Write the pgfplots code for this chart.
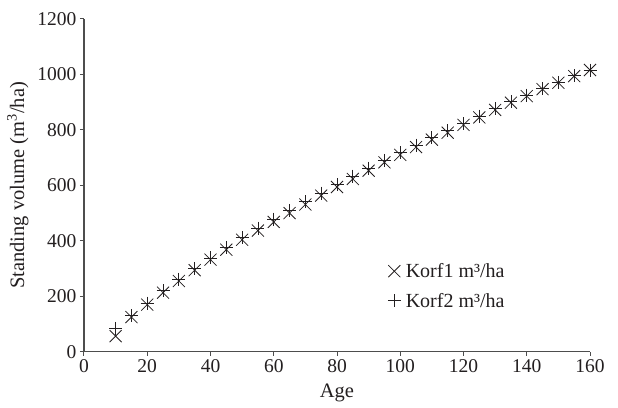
\documentclass[border=0pt]{standalone}
\usepackage{fontspec}
\setmainfont{Liberation Serif}
\usepackage{pgfplots}
\pgfplotsset{compat=1.18}
\definecolor{ink}{HTML}{231F20}
\definecolor{axisgray}{HTML}{4D4D4D}
\begin{document}
\begin{tikzpicture}
\begin{axis}[
  scale only axis,
  width=506pt, height=332.7pt,
  xmin=0, xmax=160, ymin=0, ymax=1200,
  axis x line*=bottom, axis y line*=left,
  axis line style={axisgray, line width=1.2pt, -},
  tick align=outside,
  major tick length=4pt,
  tick style={axisgray, line width=1pt},
  xtick={0,20,...,160}, ytick={0,200,...,1200},
  /pgf/number format/assume math mode=true,
  /pgf/number format/1000 sep={},
  ticklabel style={font=\fontsize{19.5}{22}\selectfont, text=ink},
  label style={font=\fontsize{20.5}{24}\selectfont, text=ink},
  xlabel={Age},
  ylabel={Standing volume (m\textsuperscript{3}/ha)},
  xlabel style={yshift=-5pt},
  ylabel style={yshift=2pt},
  legend style={draw=none, fill=none, at={(rel axis cs:0.6,0.272)}, anchor=north west,
    font=\fontsize{20}{23}\selectfont, text=ink, row sep=10pt, inner sep=0pt},
  legend cell align=left,
]
\addplot[only marks, mark=x, mark size=8.5pt, ink, line width=0.8pt] coordinates {
(10,56) (15,125) (20,170) (25,213) (30,255) (35,294) (40,332) (45,368) (50,404)
(55,437) (60,468) (65,500) (70,531) (75,563) (80,594) (85,623) (90,653) (95,683)
(100,710) (105,738) (110,765) (115,790) (120,818) (125,845) (130,872) (135,898)
(140,922) (145,947) (150,970) (155,994) (160,1016)
};
\addlegendentry{\hspace{3pt}Korf1 m³/ha}
\addplot[only marks, mark=+, mark size=6.5pt, ink, line width=0.8pt] coordinates {
(10,84) (15,130) (20,175) (25,220) (30,262) (35,300) (40,338) (45,376) (50,411)
(55,446) (60,478) (65,510) (70,541) (75,572) (80,603) (85,633) (90,662) (95,690)
(100,718) (105,745) (110,772) (115,797) (120,823) (125,850) (130,876) (135,901)
(140,925) (145,949) (150,971) (155,995) (160,1016)
};
\addlegendentry{\hspace{3pt}Korf2 m³/ha}
\end{axis}
\path (current axis.south west) ++(-84pt,-55.3pt) coordinate (bl);
\path (current axis.north east) ++(28pt,19pt) coordinate (tr);
\useasboundingbox (bl) rectangle (tr);
\end{tikzpicture}
\end{document}
